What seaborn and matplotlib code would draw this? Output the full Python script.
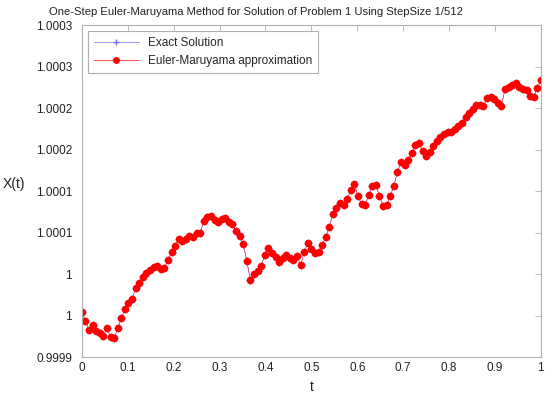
import numpy as np
import pandas as pd
import seaborn as sns
import matplotlib.pyplot as plt
from matplotlib.lines import Line2D

# time grid and path values (step 1/128 of t)
t = np.arange(129) / 128
approx = [
    0.9999542, 0.9999434, 0.9999325, 0.9999386, 0.9999313, 0.9999289, 0.9999253, 0.9999349,
    0.9999241, 0.9999229, 0.9999349, 0.9999470, 0.9999578, 0.9999651, 0.9999699, 0.9999831,
    0.9999892, 0.9999964, 1.0000012, 1.0000048, 1.0000084, 1.0000096, 1.0000060, 1.0000072,
    1.0000169, 1.0000265, 1.0000337, 1.0000422, 1.0000398, 1.0000422, 1.0000458, 1.0000446,
    1.0000494, 1.0000494, 1.0000639, 1.0000687, 1.0000699, 1.0000651, 1.0000627, 1.0000663,
    1.0000675, 1.0000627, 1.0000602, 1.0000518, 1.0000458, 1.0000361, 1.0000157, 0.9999928,
    1.0000000, 1.0000036, 1.0000096, 1.0000229, 1.0000313, 1.0000253, 1.0000205, 1.0000145,
    1.0000193, 1.0000229, 1.0000193, 1.0000169, 1.0000217, 1.0000108, 1.0000265, 1.0000373,
    1.0000301, 1.0000253, 1.0000265, 1.0000349, 1.0000446, 1.0000566, 1.0000723, 1.0000795,
    1.0000855, 1.0000831, 1.0000904, 1.0001012, 1.0001084, 1.0000940, 1.0000843, 1.0000831,
    1.0000952, 1.0001060, 1.0001072, 1.0000940, 1.0000819, 1.0000831, 1.0000940, 1.0001060,
    1.0001229, 1.0001349, 1.0001313, 1.0001373, 1.0001458, 1.0001554, 1.0001578, 1.0001482,
    1.0001422, 1.0001470, 1.0001542, 1.0001602, 1.0001651, 1.0001687, 1.0001711, 1.0001711,
    1.0001747, 1.0001783, 1.0001819, 1.0001892, 1.0001940, 1.0001988, 1.0002036, 1.0002036,
    1.0002024, 1.0002120, 1.0002133, 1.0002108, 1.0002060, 1.0002024, 1.0002229, 1.0002253,
    1.0002277, 1.0002301, 1.0002253, 1.0002229, 1.0002217, 1.0002145, 1.0002133, 1.0002241,
    1.0002337,
]
# exact solution overlaps the approximation at this scale
exact = list(approx)

xticks = [0, 0.1, 0.2, 0.3, 0.4, 0.5, 0.6, 0.7, 0.8, 0.9, 1]
xtick_labels = ["0", "0.1", "0.2", "0.3", "0.4", "0.5", "0.6", "0.7", "0.8", "0.9", "1"]
yticks = [0.9999, 0.99995, 1.0, 1.00005, 1.0001, 1.00015, 1.0002, 1.00025, 1.0003]
ytick_labels = ["0.9999", "1", "1", "1.0001", "1.0001", "1.0002", "1.0002", "1.0003", "1.0003"]

df = pd.DataFrame({"t": t, "exact": exact, "approx": approx})

sns.set_style("white")
plt.rcParams["font.family"] = ["Liberation Sans", "DejaVu Sans"]

fig, ax = plt.subplots(figsize=(5.57, 4.04), dpi=100)
fig.subplots_adjust(left=0.147, right=0.971, bottom=0.116, top=0.938)

sns.lineplot(data=df, x="t", y="exact", ax=ax, color="#7070ff", linewidth=0.4,
             marker="+", markersize=5.5, markeredgewidth=0.7, markeredgecolor="#8080ff")
sns.lineplot(data=df, x="t", y="approx", ax=ax, color="red", linewidth=0.3,
             marker="o", markersize=5.5, markeredgewidth=0, markerfacecolor="red")

ax.set_xlim(0, 1)
ax.set_ylim(0.9999, 1.0003)
ax.set_xticks(xticks)
ax.set_xticklabels(xtick_labels)
ax.set_yticks(yticks)
ax.set_yticklabels(ytick_labels)
ax.tick_params(direction="in", length=4, width=0.6, colors="#b0b0b0",
               labelcolor="#222222", labelsize=8.5, top=True, right=True)
ax.tick_params(axis="y", pad=7)
for s in ax.spines.values():
    s.set_color("#b0b0b0")
    s.set_linewidth(0.8)

ax.set_xlabel("t", fontsize=10, color="#222222", labelpad=4)
ax.set_ylabel("X(t)", fontsize=10, color="#222222", rotation=0, labelpad=16)
ax.set_title("One-Step Euler-Maruyama Method for Solution of Problem 1 Using StepSize 1/512",
             fontsize=8.1, color="#222222", pad=7, x=0.38)

handles = [
    Line2D([], [], color="#7070ff", linewidth=0.5, marker="+", markersize=5),
    Line2D([], [], color="red", linewidth=0.5, marker="o", markersize=5, markeredgewidth=0),
]
leg = ax.legend(handles, ["Exact Solution", "Euler-Maruyama approximation"],
                loc="upper left", fontsize=8.5, fancybox=False, handlelength=3.8,
                borderaxespad=0.5, borderpad=0.5, framealpha=1)
leg.get_frame().set_edgecolor("#b0b0b0")
leg.get_frame().set_linewidth(0.8)

plt.savefig("out.png", dpi=100)
